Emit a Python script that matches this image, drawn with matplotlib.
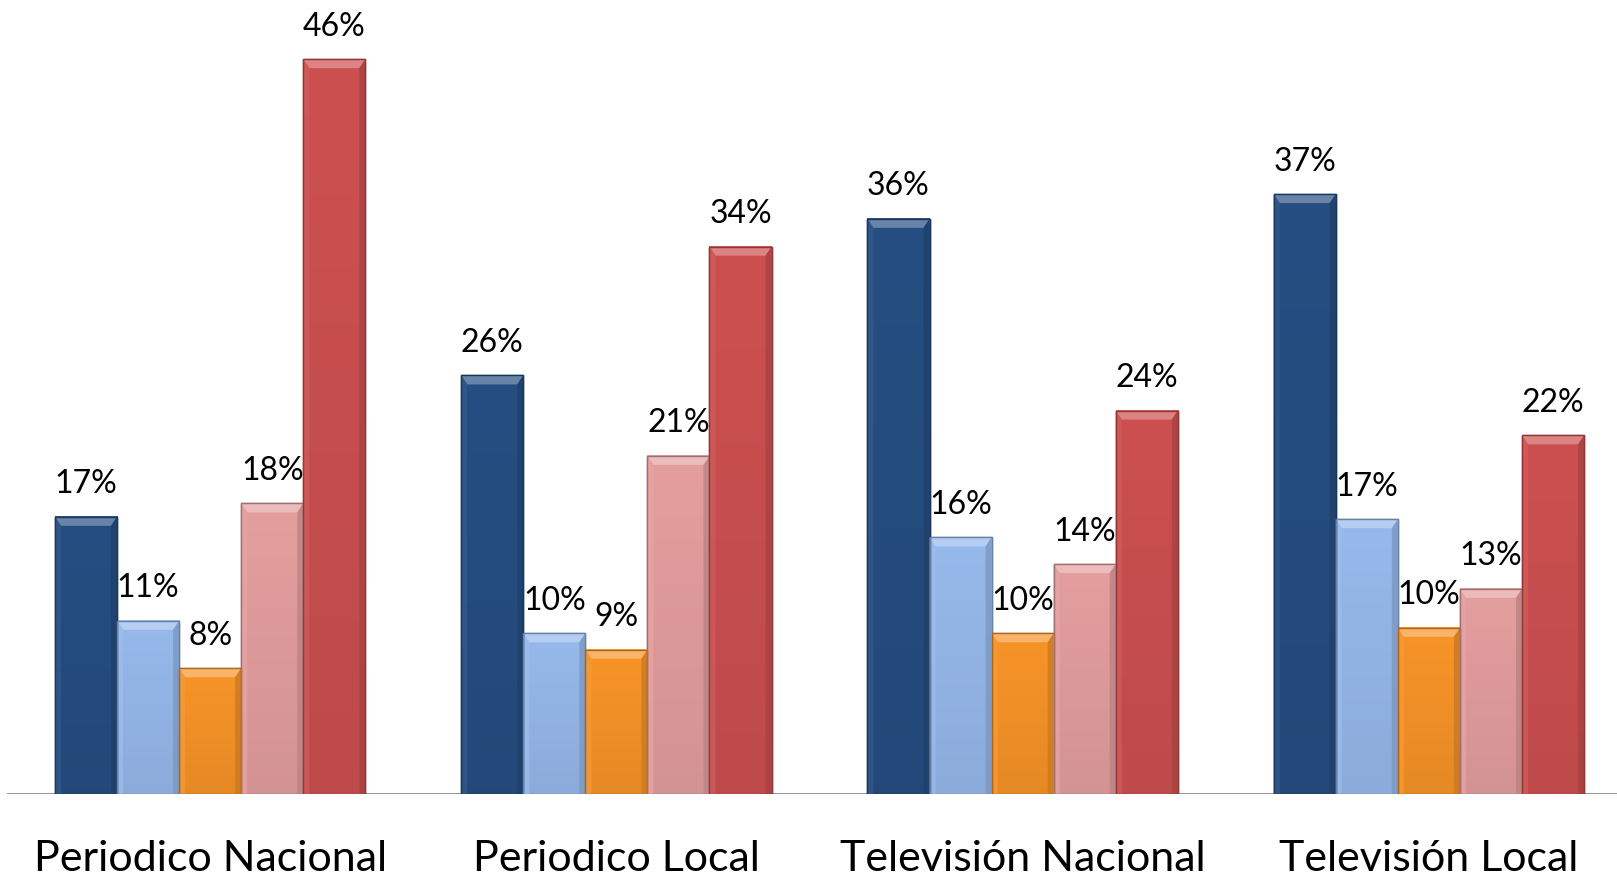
import matplotlib
matplotlib.use("Agg")
import matplotlib.pyplot as plt
from matplotlib.patches import Polygon
import numpy as np

categories = ["Periodico Nacional", "Periodico Local", "Televisión Nacional", "Televisión Local"]
serie_1 = [17.35, 26.2, 36.0, 37.55]
serie_2 = [10.84, 10.06, 16.06, 17.2]
serie_3 = [7.87, 9.03, 10.06, 10.4]
serie_4 = [18.19, 21.16, 14.39, 12.84]
serie_5 = [46.0, 34.26, 24.0, 22.45]
etiquetas_1 = ["17%", "26%", "36%", "37%"]
etiquetas_2 = ["11%", "10%", "16%", "17%"]
etiquetas_3 = ["8%", "9%", "10%", "10%"]
etiquetas_4 = ["18%", "21%", "14%", "13%"]
etiquetas_5 = ["46%", "34%", "24%", "22%"]
series = [serie_1, serie_2, serie_3, serie_4, serie_5]
etiquetas = [etiquetas_1, etiquetas_2, etiquetas_3, etiquetas_4, etiquetas_5]
colors = ["#264E82", "#96B9EB", "#F79428", "#E49E9E", "#CD5050"]

def shade(c, f):
    r, g, b = matplotlib.colors.to_rgb(c)
    if f > 0:
        return (r + (1 - r) * f, g + (1 - g) * f, b + (1 - b) * f)
    return (r * (1 + f), g * (1 + f), b * (1 + f))

plt.rcParams['font.family'] = ['Lato', 'DejaVu Sans']

W, H = 1617, 876
fig = plt.figure(figsize=(W / 100, H / 100), dpi=100)
ax = fig.add_axes([7 / W, 1 - 794 / H, 1625 / W, 794 / H])
ax.set_xlim(-0.5, 3.5)
ax.set_ylim(0, 49.7)

x = np.arange(len(categories))
bw = 0.1528
fig.canvas.draw()
inv = ax.transData.inverted()
p0 = inv.transform((0, 0)); p1 = inv.transform((10, 10))
dx = (p1[0] - p0[0]) / 10.0
dy = (p1[1] - p0[1]) / 10.0

for i, (vals, labs, col) in enumerate(zip(series, etiquetas, colors)):
    xs = x + (i - 2) * bw
    bars = ax.bar(xs, vals, width=bw, color=col, edgecolor=shade(col, -0.3), linewidth=1.0, zorder=2)
    for b, lab in zip(bars, labs):
        x0 = b.get_x(); x1 = x0 + b.get_width(); top = b.get_height()
        bev_y = 9 * dy; bev_x = 6 * dx
        grad = np.linspace(0, 1, 64).reshape(-1, 1)
        c_top = np.array(matplotlib.colors.to_rgb(col))
        c_bot = np.array(shade(col, -0.07))
        img = c_bot[None, None, :] * (1 - grad[:, :, None]) + c_top[None, None, :] * grad[:, :, None]
        ax.imshow(img, extent=(x0, x1, 0, top), origin='lower', aspect='auto', zorder=2.5,
                  interpolation='bilinear')
        ax.add_patch(Polygon([(x0, top), (x1, top), (x1 - bev_x, top - bev_y), (x0 + bev_x, top - bev_y)],
                             closed=True, facecolor=shade(col, 0.3), edgecolor='none', zorder=3))
        ax.add_patch(Polygon([(x0, top), (x0 + bev_x, top - bev_y), (x0 + bev_x, 0), (x0, 0)],
                             closed=True, facecolor=shade(col, 0.06), edgecolor='none', alpha=0.8, zorder=3))
        ax.add_patch(Polygon([(x1, top), (x1 - bev_x, top - bev_y), (x1 - bev_x, 0), (x1, 0)],
                             closed=True, facecolor=shade(col, -0.18), edgecolor='none', alpha=0.8, zorder=3))
        ax.add_patch(plt.Rectangle((x0, 0), x1 - x0, top, facecolor='none',
                                   edgecolor=shade(col, -0.3), linewidth=1.0, zorder=4))
        ax.text(b.get_x() + b.get_width() / 2, top + 1.1, lab, ha='center', va='bottom',
                fontsize=23, color='black', zorder=5)

ax.set_xlim(-0.5, 3.5)
ax.set_ylim(0, 49.7)
ax.axhline(0, color='#8C8C8C', linewidth=2, zorder=1)
for s in ax.spines.values():
    s.set_visible(False)
ax.set_yticks([])
ax.set_xticks(x)
ax.set_xticklabels(categories, fontsize=31)
ax.tick_params(axis='x', length=0, pad=33)

fig.savefig("out.png", dpi=100)
